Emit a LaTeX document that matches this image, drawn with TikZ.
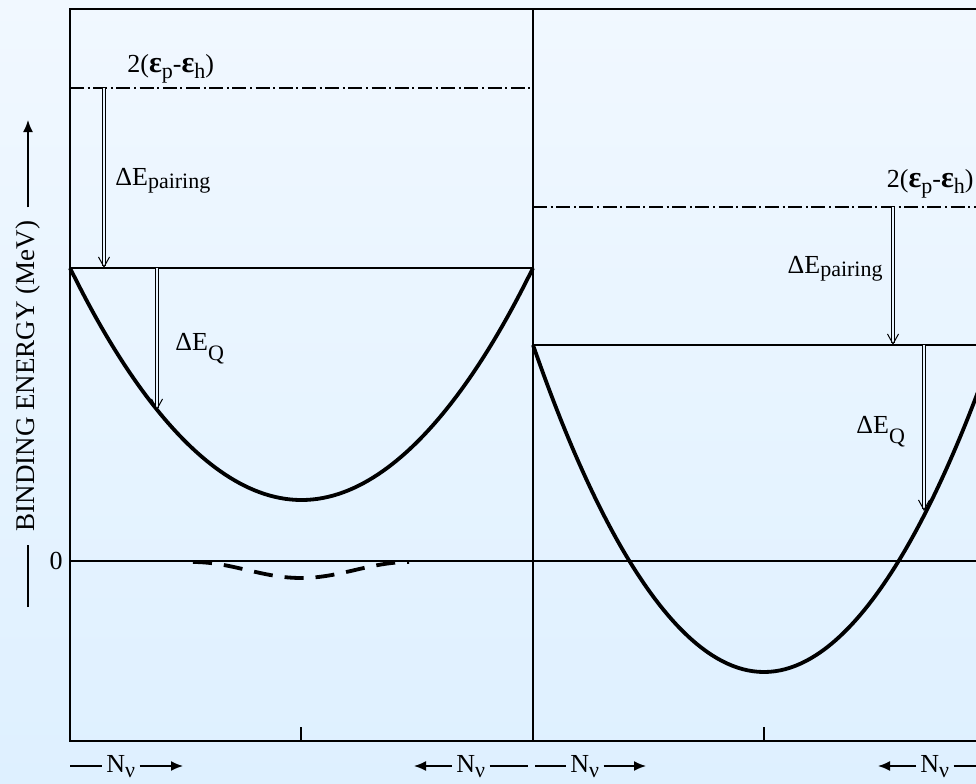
\documentclass[tikz,border=0pt]{standalone}
\usepackage{fontspec}
\setmainfont{Liberation Serif}
\usepackage{tikz}
\usetikzlibrary{arrows.meta}
\definecolor{bgtop}{RGB}{241, 248, 255}
\definecolor{bgbot}{RGB}{222, 240, 255}
\definecolor{bgmid}{RGB}{232, 244, 255}
\newcommand{\lo}[2]{\raisebox{-#1}{\fontsize{11}{11}\selectfont #2}}
\newcommand{\eps}{{\fontsize{15}{15}\selectfont\bfseries ε}}

\begin{document}
\begin{tikzpicture}[
  x=0.5pt, y=-0.5pt,
  frame/.style={draw=black, line width=1pt},
  level/.style={draw=black, line width=0.8pt},
  gapline/.style={draw=black, line width=0.6pt, dash pattern=on 7pt off 1.8pt on 1pt off 1.8pt},
  curve/.style={draw=black, line width=1.9pt},
  dip/.style={draw=black, line width=1.9pt, dash pattern=on 9.5pt off 6pt},
  dropar/.style={draw=black, line width=0.5pt, double=bgmid, double distance=1.4pt,
    -{Straight Barb[length=5pt, width=5.5pt]}},
  lbl/.style={font=\fontsize{13}{15}\selectfont, inner sep=0pt},
  nulbl/.style={font=\fontsize{13}{15}\selectfont, inner sep=2pt},
  axlbl/.style={font=\fontsize{13.5}{16}\selectfont, inner sep=6.5pt, rotate=90},
  nuar/.style={draw=black, line width=0.8pt, -{Latex[length=6pt, width=5pt]}}
]

% background
\shade[top color=bgtop, bottom color=bgbot] (0,0) rectangle (976,783);
\useasboundingbox (0,0) rectangle (976,783);

% frame
\draw[frame] (976,9) -- (70,9) -- (70,741) -- (976,741);
\draw[frame] (533,9) -- (533,741);
\draw[frame] (301,741) -- (301,727);
\draw[frame] (764,741) -- (764,727);

% levels
\draw[gapline] (70,88) -- (533,88);
\draw[gapline] (533,207) -- (976,207);
\draw[level] (70,268) -- (533,268);
\draw[level] (533,345) -- (976,345);
\draw[frame] (70,561) -- (976,561);

% curves
\begin{scope}
  \clip (0,0) rectangle (976,783);
  \draw[curve] (70,268) parabola bend (301.5,500) (533,268);
  \draw[curve] (533,345) parabola bend (764,672) (995,345);
\end{scope}
\draw[dip] plot[domain=193:409, samples=40] (\x, {562+8*(1+cos((\x-301)*1.6667))});

% left panel
\node[lbl, anchor=base west] (gapl) at (127,72) {2(\eps\lo{3pt}{p}-\eps\lo{3.3pt}{h})};
\coordinate (pl0) at (104,88);
\coordinate (pl1) at (104,268);
\draw[dropar] (pl0) -- (pl1);
\node[lbl, anchor=base west] (pairl) at (115,185) {ΔE\lo{1.5pt}{pairing}};
\coordinate (ql0) at (157,268);
\coordinate (ql1) at (157,410);
\draw[dropar] (ql0) -- (ql1);
\node[lbl, anchor=base west] (ql) at (175,350) {ΔE\lo{5pt}{Q}};

% right panel
\node[lbl, anchor=base east] (gapr) at (974,187) {2(\eps\lo{3pt}{p}-\eps\lo{3.3pt}{h})};
\coordinate (pr0) at (893,207);
\coordinate (pr1) at (893,345);
\draw[dropar] (pr0) -- (pr1);
\node[lbl, anchor=base east] (pairr) at (883,273) {ΔE\lo{1.5pt}{pairing}};
\coordinate (qr0) at (924,345);
\coordinate (qr1) at (924,511);
\draw[dropar] (qr0) -- (qr1);
\node[lbl, anchor=base west] (qr) at (856,433) {ΔE\lo{5pt}{Q}};

% axis
\node[lbl] (zero) at (56,561) {0};
\node[axlbl] (axname) at (28,376) {BINDING ENERGY (MeV)};
\coordinate (ax0) at (28,607);
\coordinate (ax1) at (28,120);
\draw[level] (ax0) -- (axname.west);
\draw[nuar] (axname.east) -- (ax1);

% neutron number
\node[nulbl, anchor=base west] (nu1) at (102,772) {N\lo{2.5pt}{ν}};
\coordinate (n1a) at (70,766);
\coordinate (n1b) at (183,766);
\draw[level] (n1a) -- (nu1.west |- n1a);
\draw[nuar] (nu1.east |- n1a) -- (n1b);

\node[nulbl, anchor=base west] (nu2) at (452,772) {N\lo{2.5pt}{ν}};
\coordinate (n2a) at (414,766);
\coordinate (n2b) at (528,766);
\draw[nuar] (nu2.west |- n2a) -- (n2a);
\draw[level] (nu2.east |- n2b) -- (n2b);

\node[nulbl, anchor=base west] (nu3) at (566,772) {N\lo{2.5pt}{ν}};
\coordinate (n3a) at (535,766);
\coordinate (n3b) at (646,766);
\draw[level] (n3a) -- (nu3.west |- n3a);
\draw[nuar] (nu3.east |- n3a) -- (n3b);

\node[nulbl, anchor=base west] (nu4) at (916,772) {N\lo{2.5pt}{ν}};
\coordinate (n4a) at (878,766);
\coordinate (n4b) at (976,766);
\draw[nuar] (nu4.west |- n4a) -- (n4a);
\draw[level] (nu4.east |- n4b) -- (n4b);

\end{tikzpicture}
\end{document}
